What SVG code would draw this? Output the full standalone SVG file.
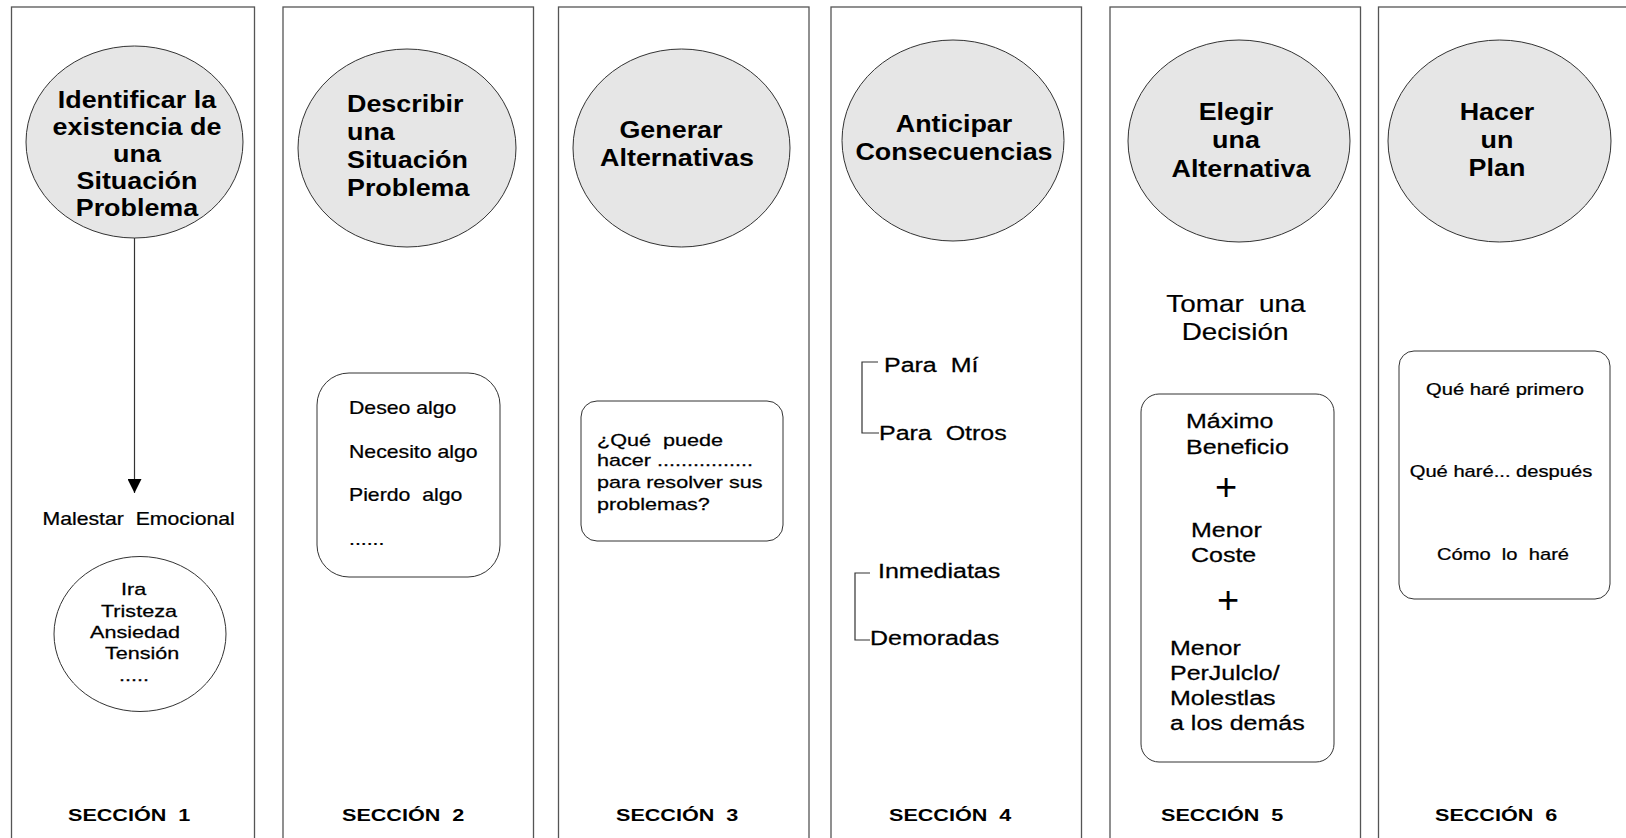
<svg xmlns="http://www.w3.org/2000/svg" width="1626" height="838" viewBox="0 0 1626 838">
<style>
.panel{fill:#fff;stroke:#555;stroke-width:1.3}
.oval{fill:#e6e6e6;stroke:#333;stroke-width:1}
.box{fill:#fff;stroke:#333;stroke-width:1}
text{font-family:"Liberation Sans",Arial,sans-serif;fill:#000;transform-box:fill-box}
.t{font-size:24px;font-weight:bold;text-anchor:middle;transform-origin:50% 0;transform:scale(1.12,1)}
.tl{font-size:24px;font-weight:bold;transform-origin:0 0;transform:scale(1.12,1)}
.sec{font-size:17px;font-weight:bold;transform-origin:0 0;transform:scale(1.27,1)}
.r16{font-size:16px;text-anchor:middle;stroke:#000;stroke-width:0.25;transform-origin:50% 0;transform:scale(1.26,1)}
.r17{font-size:17px;stroke:#000;stroke-width:0.25;transform-origin:0 0;transform:scale(1.27,1)}
.r18{font-size:18px;stroke:#000;stroke-width:0.25;transform-origin:0 0;transform:scale(1.18,1)}
.r20{font-size:20px;stroke:#000;stroke-width:0.25;transform-origin:0 0;transform:scale(1.25,1)}
.r24{font-size:24px;text-anchor:middle;stroke:#000;stroke-width:0.2;transform-origin:50% 0;transform:scale(1.16,1)}
.plus{font-size:38px;text-anchor:middle}
.conn{stroke:#333;stroke-width:1.2;fill:none}
</style>
<defs>
<marker id="arrow" markerWidth="16" markerHeight="14" refX="15" refY="7.5" orient="auto" markerUnits="userSpaceOnUse" viewBox="0 0 16 15">
<path d="M0,0 L15,7.5 L0,15 Z" fill="#000"/>
</marker>
</defs>
<rect width="1626" height="838" fill="#fff"/>

<g id="section1">
<rect class="panel" x="11.5" y="7" width="243" height="840"/>
<ellipse class="oval" cx="134.5" cy="142" rx="108.5" ry="96"/>
<text class="t" x="137" y="108">Identificar la</text>
<text class="t" x="137" y="135">existencia de</text>
<text class="t" x="137" y="162">una</text>
<text class="t" x="137" y="189">Situación</text>
<text class="t" x="137" y="216">Problema</text>
<text class="r18" x="42.5" y="525" xml:space="preserve">Malestar  Emocional</text>
<ellipse class="box" cx="140" cy="634" rx="86" ry="77.5"/>
<text class="r17" x="121" y="595">Ira</text>
<text class="r17" x="101" y="617">Tristeza</text>
<text class="r17" x="90" y="638">Ansiedad</text>
<text class="r17" x="105" y="659">Tensión</text>
<text class="r17" x="119" y="681">.....</text>
<text class="sec" x="68" y="821" xml:space="preserve">SECCIÓN  1</text>
</g>

<g id="section2">
<rect class="panel" x="283" y="7" width="250.5" height="840"/>
<ellipse class="oval" cx="407" cy="148" rx="109" ry="99"/>
<text class="tl" x="347" y="112">Describir</text>
<text class="tl" x="347" y="140">una</text>
<text class="tl" x="347" y="168">Situación</text>
<text class="tl" x="347" y="196">Problema</text>
<rect class="box" x="317" y="373" width="183" height="204" rx="32" ry="32"/>
<text class="r18" x="349" y="414">Deseo algo</text>
<text class="r18" x="349" y="458">Necesito algo</text>
<text class="r18" x="349" y="501" xml:space="preserve">Pierdo  algo</text>
<text class="r18" x="349" y="545">......</text>
<text class="sec" x="342" y="821" xml:space="preserve">SECCIÓN  2</text>
</g>

<g id="section3">
<rect class="panel" x="558.5" y="7" width="250.5" height="840"/>
<ellipse class="oval" cx="681.5" cy="148" rx="108.5" ry="99"/>
<text class="t" x="671" y="138">Generar</text>
<text class="t" x="677" y="166">Alternativas</text>
<rect class="box" x="581" y="401" width="202" height="140" rx="16" ry="16"/>
<text class="r17" x="597" y="446" xml:space="preserve">¿Qué  puede</text>
<text class="r17" x="597" y="466">hacer ................</text>
<text class="r17" x="597" y="488">para resolver sus</text>
<text class="r17" x="597" y="510">problemas?</text>
<text class="sec" x="616" y="821" xml:space="preserve">SECCIÓN  3</text>
</g>

<g id="section4">
<rect class="panel" x="831" y="7" width="250.5" height="840"/>
<ellipse class="oval" cx="953" cy="140.5" rx="111" ry="100.5"/>
<text class="t" x="954" y="132">Anticipar</text>
<text class="t" x="954" y="160">Consecuencias</text>
<text class="r20" x="884" y="372" xml:space="preserve">Para  Mí</text>
<text class="r20" x="879" y="440" xml:space="preserve">Para  Otros</text>
<text class="r20" x="878" y="578">Inmediatas</text>
<text class="r20" x="870" y="645">Demoradas</text>
<text class="sec" x="889" y="821" xml:space="preserve">SECCIÓN  4</text>
</g>

<g id="section5">
<rect class="panel" x="1110" y="7" width="250.5" height="840"/>
<ellipse class="oval" cx="1239" cy="141" rx="111" ry="101"/>
<text class="t" x="1236" y="120">Elegir</text>
<text class="t" x="1236" y="148">una</text>
<text class="t" x="1241" y="177">Alternativa</text>
<text class="r24" x="1236" y="312" xml:space="preserve">Tomar  una</text>
<text class="r24" x="1235" y="340">Decisión</text>
<rect class="box" x="1141" y="394" width="193" height="368" rx="18" ry="18"/>
<text class="r20" x="1186" y="428">Máximo</text>
<text class="r20" x="1186" y="454">Beneficio</text>
<text class="plus" x="1226" y="500">+</text>
<text class="r20" x="1191" y="537">Menor</text>
<text class="r20" x="1191" y="562">Coste</text>
<text class="plus" x="1228" y="613">+</text>
<text class="r20" x="1170" y="655">Menor</text>
<text class="r20" x="1170" y="680">PerJulclo/</text>
<text class="r20" x="1170" y="705">Molestlas</text>
<text class="r20" x="1170" y="730">a los demás</text>
<text class="sec" x="1161" y="821" xml:space="preserve">SECCIÓN  5</text>
</g>

<g id="section6">
<rect class="panel" x="1378.5" y="7" width="252" height="840"/>
<ellipse class="oval" cx="1499.5" cy="141" rx="111.5" ry="101"/>
<text class="t" x="1497" y="120">Hacer</text>
<text class="t" x="1497" y="148">un</text>
<text class="t" x="1497" y="176">Plan</text>
<rect class="box" x="1399" y="351" width="211" height="248" rx="15" ry="15"/>
<text class="r16" x="1505" y="395">Qué haré primero</text>
<text class="r16" x="1501" y="477">Qué haré... después</text>
<text class="r16" x="1503" y="560" xml:space="preserve">Cómo  lo  haré</text>
<text class="sec" x="1435" y="821" xml:space="preserve">SECCIÓN  6</text>
</g>

<g id="connectors">
<line class="conn" x1="134.5" y1="238" x2="134.5" y2="493" marker-end="url(#arrow)"/>
<polyline class="conn" points="878,362 862,362 862,433 879,433"/>
<polyline class="conn" points="870,573 855,573 855,640 870,640"/>
</g>
</svg>
